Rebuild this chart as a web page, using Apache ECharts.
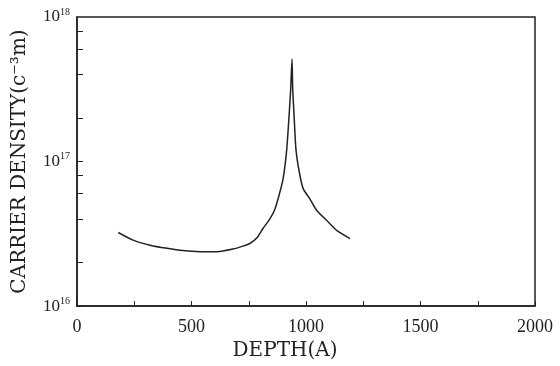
<!DOCTYPE html>
<html>
<head>
<meta charset="utf-8">
<script src="https://cdn.jsdelivr.net/npm/echarts@6/dist/echarts.min.js"></script>
<style>
  html, body { margin: 0; padding: 0; background: #fff; }
  #chart { width: 560px; height: 366px; }
</style>
</head>
<body>
<div id="chart"></div>
<script>
// depth in angstrom
const depth = [180, 245, 319, 393, 463, 537, 611, 681, 725, 755, 786, 812, 843, 865, 882, 900, 916, 926, 933, 939,
  942, 948, 956, 971, 988, 1017, 1047, 1090, 1134, 1192];
// carrier density
const density = [3.23e16, 2.86e16, 2.64e16, 2.51e16, 2.42e16, 2.38e16, 2.38e16, 2.48e16, 2.60e16, 2.71e16, 2.97e16,
  3.44e16, 4.03e16, 4.72e16, 5.82e16, 7.59e16, 1.22e17, 2.07e17, 3.15e17, 5.12e17,
  3.15e17, 2.07e17, 1.22e17, 8.4e16, 6.47e16, 5.52e16, 4.59e16, 3.92e16, 3.34e16, 2.93e16];
const yTicks = [1e16, 2e16, 4e16, 6e16, 8e16, 1e17, 2e17, 4e17, 6e17, 8e17, 1e18];

const ink = "#222";
const serif = "DejaVu Serif";
const tickFont = "Liberation Serif";

const chart = echarts.init(document.getElementById("chart"));
const points = [];
for (let i = 0; i < depth.length; i++) {
  points.push([depth[i], density[i]]);
}

chart.setOption({
  animation: false,
  grid: {
    left: 77,
    right: 25,
    top: 17,
    bottom: 58,
    show: true,
    borderColor: ink,
    borderWidth: 1.5
  },
  xAxis: {
    type: "value",
    min: 0,
    max: 2000,
    interval: 500,
    name: "DEPTH(A)",
    nameLocation: "middle",
    nameGap: 34,
    nameTextStyle: { fontFamily: serif, fontSize: 20, color: ink, padding: [0, 42, 0, 0] },
    axisLine: { lineStyle: { color: ink, width: 1.5 } },
    axisTick: { show: true, inside: true, length: 5, lineStyle: { color: ink } },
    minorTick: { show: true, splitNumber: 2, length: 5, lineStyle: { color: ink } },
    axisLabel: {
      fontFamily: tickFont, fontSize: 18, color: ink, margin: 12,
      formatter: function (v) { return String(v); }
    },
    splitLine: { show: false }
  },
  yAxis: {
    type: "log",
    logBase: 10,
    min: 1e16,
    max: 1e18,
    name: "CARRIER DENSITY(c⁻³m)",
    nameLocation: "middle",
    nameGap: 47,
    nameTextStyle: { fontFamily: serif, fontSize: 20, color: ink },
    axisLine: { lineStyle: { color: ink, width: 1.5 } },
    axisTick: { show: true, inside: true, length: 6, customValues: yTicks, lineStyle: { color: ink } },
    axisLabel: {
      margin: 7,
      formatter: function (v) {
        return "{a|10}{b|" + Math.round(Math.log10(v)) + "}";
      },
      rich: {
        a: { fontFamily: tickFont, fontSize: 17, color: ink },
        b: { fontFamily: tickFont, fontSize: 10, color: ink, padding: [0, 0, 10, 0] }
      }
    },
    splitLine: { show: false }
  },
  series: [
    {
      type: "line",
      data: points,
      showSymbol: false,
      smooth: 0.2,
      lineStyle: { color: ink, width: 1.5 }
    }
  ]
});
</script>
</body>
</html>
